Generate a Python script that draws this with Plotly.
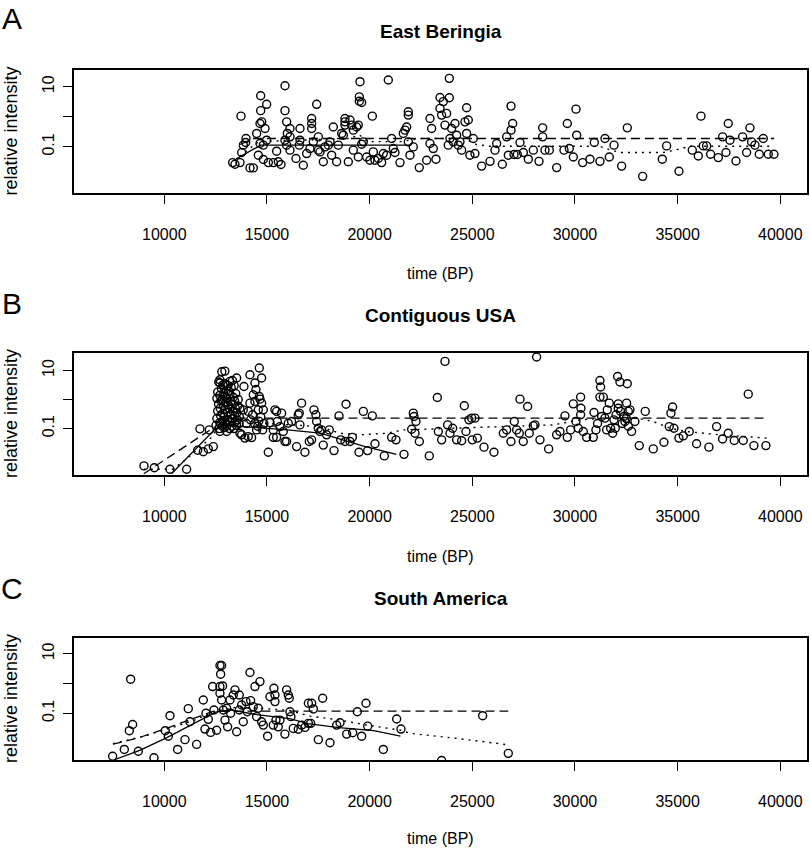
import plotly.graph_objects as go

# ---------------- Panel A: East Beringia ----------------
a_x = [13330, 13443, 13687, 13768, 13849, 13979, 13963, 13735, 14174, 14336,
       14498, 14661, 14742, 14693, 14693, 14985, 14904, 14661, 14823, 14579,
       14823, 15066, 15310, 15553, 15683, 15472, 14985,
       15878, 15878, 15959, 16121, 15991, 16121, 15878, 15959, 16121, 16413,
       16608, 16608, 16576, 16770, 16933, 17095, 17176, 17176, 17176, 17257,
       17420, 17501, 17501, 17582, 17744, 17825, 17988, 18069, 18150, 18231,
       18393, 18474, 18637, 18718, 18799, 18799, 18799, 18961, 19043, 19124,
       19205, 19205, 19367, 19448, 19448, 19530, 19497, 19497, 19611, 19692,
       19611, 19854, 20016, 20130, 20179, 20260, 20422, 20584, 20666, 20909,
       20828, 21071, 21153, 21234, 21477, 21639, 21721, 21802, 21883, 21883,
       21883, 21964, 22126, 22418, 22776, 22938, 22938, 23019, 23100, 23230,
       23425, 23425, 23506, 23587, 23668, 23749, 23879, 23879, 23993, 23912,
       23830, 24074, 24155, 24236, 24317, 24399, 24480, 24642, 24723, 24723,
       24804, 24885, 25048, 25129, 25453,
       25862, 26105, 26187, 26463, 26674, 26755, 26885, 26966, 26885, 27031,
       27193, 27323, 27485, 27728, 27972, 28248, 28426, 28426, 28540, 28751,
       29108, 29465, 29627, 29725, 29920, 30049, 30082, 30374, 30731, 30942,
       31218, 31461, 31672, 31900, 32273, 32549, 33296, 34253, 34464, 35064,
       35714, 36006, 36136, 36249, 36412, 36606, 36980, 37191, 37353, 37466,
       37548, 37840, 38164, 38359, 38521, 38602, 38765, 38976, 39171, 39414,
       39690]
a_y = [0.030, 0.0265, 0.030, 0.065, 0.114, 0.19, 0.14, 1.05, 0.020, 0.020,
       0.28, 0.60, 0.68, 5.0, 1.6, 2.6, 0.41, 0.13, 0.114, 0.053,
       0.038, 0.030, 0.030, 0.032, 0.026, 0.072, 0.167,
       10.8, 1.6, 0.68, 0.41, 0.28, 0.216, 0.167, 0.114, 0.078, 0.041,
       0.41, 0.167, 0.114, 0.0245, 0.060, 0.088, 0.88, 0.60, 0.41, 0.147,
       2.6, 0.216, 0.078, 0.068, 0.032, 0.1, 0.114, 0.147, 0.053, 0.46,
       0.032, 0.114, 0.28, 0.245, 0.88, 0.68, 0.53, 0.032, 0.78, 0.53,
       0.36, 0.078, 0.46, 0.53, 0.046, 14.7, 4.6, 3.3, 3.0, 0.147,
       0.123, 0.046, 0.036, 1.05, 0.068, 0.036, 0.041, 0.030, 0.060, 16.7,
       0.053, 0.19, 0.088, 0.065, 0.030, 0.28, 0.36, 0.46, 1.47, 1.14,
       0.147, 0.053, 0.1, 0.0205, 0.036, 0.88, 0.13, 0.41, 0.088, 0.039,
       4.4, 1.9, 1.14, 3.2, 0.53, 1.3, 19.0, 4.3, 0.41, 0.19,
       0.114, 0.147, 0.60, 0.245, 0.114, 0.147, 0.078, 0.68, 2.0, 0.28,
       0.78, 0.053, 0.19, 0.060, 0.023,
       0.033, 0.078, 0.13, 0.0265, 0.216, 0.053, 2.27, 0.60, 0.36, 0.0556,
       0.0556, 0.14, 0.065, 0.039, 0.078, 0.033, 0.43, 0.216, 0.078, 0.078,
       0.0205, 0.078, 0.60, 0.088, 0.046, 1.8, 0.245, 0.030, 0.039, 0.14,
       0.033, 0.19, 0.046, 0.114, 0.023, 0.43, 0.0105, 0.039, 0.108, 0.0155,
       0.078, 0.050, 1.05, 0.108, 0.108, 0.057, 0.044, 0.216, 0.065, 0.60,
       0.167, 0.034, 0.216, 0.065, 0.43, 0.147, 0.114, 0.057, 0.19, 0.057,
       0.057]
a_solid_x = [13500, 14700, 21950]
a_solid_y = [0.04, 0.114, 0.114]
a_dash_x = [13700, 14300, 39700]
a_dash_y = [0.12, 0.19, 0.19]
a_dot_x = [13400, 14600, 19000, 19500, 19900, 21500, 22500, 24600, 25200, 25800,
           31200, 31700, 32200, 34300, 35100, 35600, 39700]
a_dot_y = [0.035, 0.15, 0.19, 0.25, 0.15, 0.15, 0.19, 0.19, 0.12, 0.105,
           0.105, 0.08, 0.065, 0.065, 0.085, 0.105, 0.105]

# ---------------- Panel B: Contiguous USA ----------------
b_x = [9010, 9513, 10276, 11087, 11736, 12191, 11623, 11899, 12142, 12386,
       12520, 12560, 12600, 12640, 12560, 12600, 12680, 12700, 12740, 12720,
       12760, 12700, 12780, 12820, 12860, 12840, 12880, 12820, 12900, 12860,
       12940, 12960, 12920, 12980, 13000, 12960, 13020, 13060, 13100, 13080,
       13120, 13060, 13140, 13100, 13180, 13200, 13220, 13180, 13240, 13200,
       13260, 13300, 13320, 13340, 13300, 13360, 13320, 13400, 13420, 13440,
       13460, 13420, 13480, 13520, 13560, 13540, 13580, 13600, 13640, 13660,
       12650, 12800, 12950, 12950, 13400,
       12710, 12710, 13197, 13522, 13879, 14171, 14626, 14739, 14414, 14463,
       14333, 14414, 14658, 14739, 14820, 14577, 14626, 14171, 14090, 13846,
       13684, 14200, 14400, 14550, 14700, 14300, 14000, 14850, 14600,
       12710, 13035, 13684, 13765, 14090, 13928, 14252, 14496, 14788, 15064,
       15307, 15388, 15469, 15145, 15502, 15632, 15713, 15307, 15469, 15794,
       15875, 15956, 16037, 16199, 16443, 16524, 16573, 16605, 16686, 16849,
       17060, 17173, 17287, 17384, 17417, 17498, 17579, 17660, 17742, 17904,
       18034,
       18265, 18508, 18589, 18849, 18800, 19044, 19157, 19482, 19693, 19904,
       20131, 20261, 20715, 21072, 21283, 21673, 22046, 22127, 22160, 22257,
       22209, 22420, 22906, 23296, 23345, 23507, 23669, 23799, 23913, 24043,
       24237, 24481, 24611, 24692, 24838, 24968, 25130, 25000, 25244, 25568,
       26055, 26510, 26672, 26883, 27045, 27159, 27289, 27321, 27483, 27694,
       27775, 27970, 28051, 28133, 28295, 28717, 29106, 29269, 29512, 29626,
       29788, 29918, 30048, 30161, 30275, 30291, 30275, 30405, 30567, 30892,
       31022, 30924, 31216, 31249, 31216, 31379, 31297, 31460, 31573, 31671,
       31541, 31736, 31833, 31963, 32076, 32190, 32109, 32109, 32222, 32385,
       32433, 32515, 32596, 32547, 32677, 32758, 32920, 33131, 33423, 33813,
       34332, 34592, 34673, 34754, 34819, 35063, 35274, 35566, 35923, 36523,
       36897, 37189, 37465, 37757, 38195, 38439, 38715, 39299,
       31900, 32300, 32500, 31100, 32600, 32000]
b_y = [0.0052, 0.0045, 0.004, 0.004, 0.098, 0.090, 0.018, 0.016, 0.020, 0.024,
       0.13, 0.22, 0.4, 0.7, 1.1, 1.8, 0.1, 0.16, 0.28, 0.5,
       0.9, 1.4, 2.4, 0.12, 0.19, 0.33, 0.6, 1.0, 1.6, 3.2,
       0.11, 0.15, 0.25, 0.45, 0.8, 1.3, 2.1, 0.13, 0.2, 0.36,
       0.65, 1.1, 1.9, 3.0, 0.1, 0.17, 0.3, 0.5, 0.85, 1.5,
       2.6, 0.12, 0.22, 0.4, 0.7, 1.2, 4.5, 0.1, 0.16, 0.27,
       0.5, 0.9, 1.6, 0.13, 0.2, 0.35, 0.6, 1.0, 0.15, 0.25,
       4.0, 9.0, 9.5, 3.5, 3.0,
       4.8, 3.7, 4.2, 5.5, 2.8, 7.1, 12.1, 5.5, 3.7, 2.2,
       1.45, 0.86, 1.03, 0.75, 0.44, 0.44, 1.27, 0.75, 0.39, 0.44,
       0.50, 0.2, 0.15, 0.12, 0.25, 0.3, 0.15, 0.15, 0.18,
       0.079, 0.079, 0.069, 0.061, 0.053, 0.047, 0.049, 0.090, 0.090, 0.0153,
       0.090, 0.44, 0.39, 0.16, 0.175, 0.117, 0.34, 0.050, 0.050, 0.079,
       0.036, 0.036, 0.153, 0.175, 0.024, 0.30, 0.34, 0.134, 0.75, 0.0153,
       0.036, 0.041, 0.44, 0.30, 0.175, 0.103, 0.079, 0.090, 0.027, 0.061,
       0.090,
       0.0175, 0.274, 0.041, 0.69, 0.036, 0.036, 0.050, 0.0153, 0.39, 0.0175,
       0.274, 0.030, 0.0115, 0.050, 0.041, 0.013, 0.095, 0.34, 0.26, 0.175,
       0.069, 0.036, 0.0115, 1.17, 0.079, 0.041, 20.5, 0.134, 0.069, 0.103,
       0.041, 0.038, 0.61, 0.079, 0.20, 0.228, 0.228, 0.041, 0.047, 0.023,
       0.0153, 0.069, 0.090, 0.036, 0.175, 0.090, 0.069, 1.03, 0.036, 0.575,
       0.069, 0.124, 0.134, 28.9, 0.041, 0.020, 0.061, 0.079, 0.274, 0.050,
       0.090, 0.71, 0.175, 0.103, 1.21, 0.50, 0.30, 0.079, 0.050, 0.050,
       0.090, 0.357, 4.5, 2.7, 1.21, 1.21, 0.26, 0.228, 0.44, 0.75,
       0.090, 0.103, 0.069, 0.103, 6.2, 4.0, 0.71, 0.50, 0.39, 0.26,
       0.175, 0.75, 0.39, 3.5, 0.44, 0.079, 0.175, 0.026, 0.39, 0.020,
       0.034, 0.117, 0.34, 0.55, 0.103, 0.047, 0.056, 0.079, 0.030, 0.023,
       0.117, 0.044, 0.069, 0.039, 0.039, 1.53, 0.026, 0.026,
       0.2, 0.15, 0.22, 0.15, 0.12, 0.3]
b_solid_x = [10350, 12500, 13000, 14500, 16000, 17600, 18600, 19700, 21300]
b_solid_y = [0.0028, 0.1, 0.13, 0.11, 0.09, 0.07, 0.042, 0.025, 0.013]
b_dash_x = [9000, 12500, 12700, 39300]
b_dash_y = [0.0028, 0.12, 0.228, 0.228]
b_dot_x = [9000, 10400, 11000, 11600, 12300, 12600, 13500, 15000, 17583, 18557,
           19530, 20829, 21640, 24075, 28944, 30244, 31379, 33000, 33813, 34625,
           35436, 37059, 39330]
b_dot_y = [0.004, 0.004, 0.008, 0.018, 0.05, 0.11, 0.2, 0.15, 0.117, 0.069,
           0.061, 0.069, 0.090, 0.103, 0.134, 0.20, 0.228, 0.228, 0.175, 0.103,
           0.079, 0.061, 0.047]

# ---------------- Panel C: South America ----------------
c_x = [7484, 8052, 8361, 8458, 8296, 8734, 9497, 10048, 10194, 10276,
       10649, 11006, 11168, 11250, 11574, 11899, 12028, 11980, 12142, 12256,
       12353, 12418, 12548, 12710, 12791, 12743, 12710, 12840, 12710, 12791,
       12873, 12954, 13035, 13083, 13197, 13230, 13359, 13441, 13522, 13652,
       13652, 13765, 13846, 13976, 14041, 14171, 14203, 14333, 14414, 14496,
       14577, 14658, 14739, 14820, 15031, 15145, 15307, 15339, 15388, 15388,
       15437, 15550, 15632, 15875, 15956, 16037, 16086, 16119, 16167, 16281,
       16524,
       16690, 16852, 17015, 17128, 17015, 17177, 17258, 17502, 17713, 18070,
       18394, 18557, 18881, 19173, 19400, 19611, 19823, 19904, 20666, 21316,
       21527, 23507, 25503, 26753]
c_y = [0.0036, 0.0061, 1.40, 0.042, 0.026, 0.0053, 0.0032, 0.026, 0.017, 0.083,
       0.0061, 0.013, 0.143, 0.052, 0.009, 0.28, 0.1, 0.0295, 0.0625, 0.0228,
       0.79, 0.129, 0.027, 4.04, 4.04, 2.06, 0.79, 0.83, 0.47, 0.28,
       0.129, 0.059, 0.147, 0.035, 0.28, 0.1, 0.41, 0.61, 0.024, 0.41,
       0.129, 0.19, 0.052, 0.247, 0.113, 2.34, 0.267, 0.167, 0.79, 0.077,
       0.147, 1.16, 0.052, 0.040, 0.017, 0.36, 0.040, 0.69, 0.41, 0.247,
       0.059, 0.035, 0.059, 0.020, 0.61, 0.41, 0.32, 0.113, 0.077, 0.031,
       0.029,
       0.040, 0.0336, 0.0458, 0.0458, 0.217, 0.217, 0.14, 0.013, 0.32, 0.0102,
       0.040, 0.048, 0.020, 0.0222, 0.113, 0.017, 0.217, 0.037, 0.0061, 0.064,
       0.0295, 0.0026, 0.083, 0.0045]
c_solid_x = [7600, 8800, 10100, 11250, 12500, 13200, 14500, 16100, 17000, 18500,
             20200, 21500]
c_solid_y = [0.0028, 0.0057, 0.015, 0.04, 0.11, 0.13, 0.09, 0.066, 0.045, 0.033,
             0.026, 0.017]
c_dash_x = [7500, 8650, 10100, 11250, 12400, 26750]
c_dash_y = [0.0092, 0.0143, 0.031, 0.059, 0.119, 0.119]
c_dot_x = [7500, 9000, 10500, 11500, 12500, 13500, 14500, 16100, 17100, 18500,
           19900, 21500, 22000, 24200, 26700]
c_dot_y = [0.0095, 0.017, 0.035, 0.06, 0.12, 0.16, 0.15, 0.125, 0.08, 0.06,
           0.04, 0.027, 0.021, 0.0145, 0.0088]

x_ticks = [10000, 15000, 20000, 25000, 30000, 35000, 40000]
y_ticks = [0.1, 1, 10]
y_ticktext = ["0.1", "", "10"]

W, H = 810, 850
SANS = "Liberation Sans, Arial, sans-serif"

panels = [
    dict(letter="A", title="East Beringia", top=70, bottom=193, yr=[-2.533, 1.556],
         px=a_x, py=a_y, sx=a_solid_x, sy=a_solid_y, dx=a_dash_x, dy=a_dash_y,
         ox=a_dot_x, oy=a_dot_y, letter_y=19, title_y=31, lab_y=273),
    dict(letter="B", title="Contiguous USA", top=353, bottom=475, yr=[-2.597, 1.6],
         px=b_x, py=b_y, sx=b_solid_x, sy=b_solid_y, dx=b_dash_x, dy=b_dash_y,
         ox=b_dot_x, oy=b_dot_y, letter_y=303, title_y=315, lab_y=556),
    dict(letter="C", title="South America", top=638, bottom=760, yr=[-2.57, 1.53],
         px=c_x, py=c_y, sx=c_solid_x, sy=c_solid_y, dx=c_dash_x, dy=c_dash_y,
         ox=c_dot_x, oy=c_dot_y, letter_y=588, title_y=598, lab_y=838),
]

fig = go.Figure()
annotations = []
left, right = 74, 807
for i, p in enumerate(panels):
    n = "" if i == 0 else str(i + 1)
    xa, ya = "x" + n, "y" + n
    fig.add_trace(go.Scatter(x=p["px"], y=p["py"], mode="markers", xaxis=xa, yaxis=ya,
                             marker=dict(symbol="circle-open", size=8, color="black",
                                         line=dict(width=1.4, color="black")),
                             showlegend=False, hoverinfo="x+y"))
    fig.add_trace(go.Scatter(x=p["sx"], y=p["sy"], mode="lines", xaxis=xa, yaxis=ya,
                             line=dict(color="black", width=1.3), showlegend=False))
    fig.add_trace(go.Scatter(x=p["dx"], y=p["dy"], mode="lines", xaxis=xa, yaxis=ya,
                             line=dict(color="black", width=1.3, dash="9px,5px"), showlegend=False))
    fig.add_trace(go.Scatter(x=p["ox"], y=p["oy"], mode="lines", xaxis=xa, yaxis=ya,
                             line=dict(color="black", width=1.4, dash="2px,5px"), showlegend=False))
    dom_y = [1 - p["bottom"] / H, 1 - p["top"] / H]
    fig.update_layout(**{
        "xaxis" + n: dict(domain=[left / W, right / W], range=[5602, 41300],
                          tickvals=x_ticks, ticktext=[str(v) for v in x_ticks],
                          ticks="outside", ticklen=9, tickwidth=1.3, tickcolor="black",
                          showline=True, mirror=True, linecolor="black", linewidth=1.6,
                          showgrid=False, zeroline=False, anchor=ya,
                          tickfont=dict(family=SANS, size=16, color="black"),
                          ticklabelstandoff=17),
        "yaxis" + n: dict(domain=dom_y, type="log", range=p["yr"],
                          tickvals=y_ticks, ticktext=y_ticktext, tickangle=-90,
                          ticks="outside", ticklen=9, tickwidth=1.3, tickcolor="black",
                          showline=True, mirror=True, linecolor="black", linewidth=1.6,
                          showgrid=False, zeroline=False, anchor=xa,
                          tickfont=dict(family=SANS, size=16, color="black"),
                          ticklabelstandoff=3),
    })
    annotations.append(dict(text=p["letter"], x=12 / W, y=1 - p["letter_y"] / H,
                            xref="paper", yref="paper", showarrow=False,
                            xanchor="center", yanchor="middle",
                            font=dict(family=SANS, size=30, color="black")))
    annotations.append(dict(text="<b>" + p["title"] + "</b>", x=441 / W, y=1 - p["title_y"] / H,
                            xref="paper", yref="paper", showarrow=False,
                            xanchor="center", yanchor="middle",
                            font=dict(family=SANS, size=19, color="black")))
    annotations.append(dict(text="time (BP)", x=441 / W, y=1 - p["lab_y"] / H,
                            xref="paper", yref="paper", showarrow=False,
                            xanchor="center", yanchor="middle",
                            font=dict(family=SANS, size=16, color="black")))
    annotations.append(dict(text="relative intensity", x=11 / W,
                            y=1 - (p["top"] + p["bottom"]) / 2 / H,
                            xref="paper", yref="paper", showarrow=False, textangle=-90,
                            xanchor="center", yanchor="middle",
                            font=dict(family=SANS, size=18, color="black")))

fig.update_layout(width=W, height=H, margin=dict(l=0, r=0, t=0, b=0),
                  paper_bgcolor="white", plot_bgcolor="white",
                  annotations=annotations)
fig.write_html("out.html", config={"displayModeBar": False},
               post_script="document.body.style.margin='0px';document.body.style.overflow='hidden';")
